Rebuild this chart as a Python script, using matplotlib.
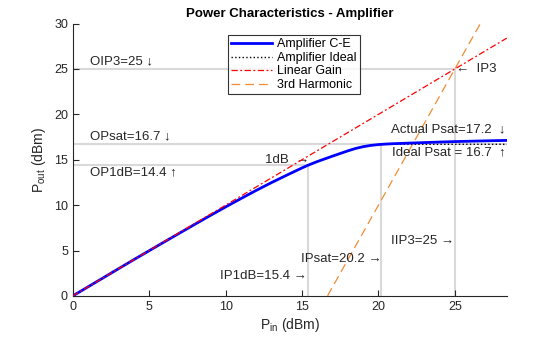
import matplotlib.pyplot as plt

plt.rcParams['font.family'] = ['Liberation Sans', 'DejaVu Sans']
plt.rcParams['mathtext.fontset'] = 'custom'
plt.rcParams['mathtext.rm'] = 'Liberation Sans'

# measured compression curve (dBm)
pin = [0, 1, 2, 3, 4, 5, 6, 7, 8, 9, 10, 11, 12, 13, 14, 15, 15.4, 16, 17, 18,
       18.5, 19, 19.5, 20, 20.5, 21, 22, 23, 24, 25, 26, 27, 28.4]
pout = [0, 1.0, 2.0, 3.0, 4.0, 4.98, 5.96, 6.93, 7.9, 8.86, 9.8, 10.72, 11.62,
        12.48, 13.3, 14.1, 14.4, 14.8, 15.4, 15.98, 16.24, 16.44, 16.58, 16.67,
        16.73, 16.77, 16.83, 16.89, 16.95, 17.0, 17.04, 17.08, 17.13]

ip1db, op1db = 15.4, 14.4
ipsat, opsat = 20.2, 16.7
iip3, oip3 = 25, 25
xmax = 28.4

# ideal amplifier: same curve, hard-limited at the saturation level
ideal_pout = [min(p, opsat) for p in pout]

lin_pin = [0, 28.4]
lin_pout = [0, 28.4]
harm_pin = [16.67, 28.4]
harm_pout = [0, 35.2]

txt = '#262626'
grid = '#d9d9d9'

fig = plt.figure(figsize=(5.6, 3.37), dpi=100)
ax = fig.add_axes([0.130, 0.122, 0.775, 0.808])

# marker lines for the key points
ax.plot([0, iip3], [oip3, oip3], color=grid, lw=1.5, zorder=1)
ax.plot([0, xmax], [opsat, opsat], color=grid, lw=1.5, zorder=1)
ax.plot([0, ip1db], [op1db, op1db], color=grid, lw=1.5, zorder=1)
ax.plot([ip1db, ip1db], [0, op1db], color=grid, lw=1.5, zorder=1)
ax.plot([ipsat, ipsat], [0, opsat], color=grid, lw=1.5, zorder=1)
ax.plot([iip3, iip3], [0, oip3], color=grid, lw=1.5, zorder=1)

ax.plot(pin, pout, color='#0000ff', lw=2, label='Amplifier C-E', zorder=4)
ax.plot(pin, ideal_pout, color='black', ls=':', lw=1, label='Amplifier Ideal', zorder=3)
ax.plot(lin_pin, lin_pout, color='#ff0000', ls=(0, (5, 2, 1.5, 2)), lw=0.9,
        label='Linear Gain', zorder=5)
ax.plot(harm_pin, harm_pout, color='#f08c32', ls=(0, (7, 4)), lw=0.9,
        label='3rd Harmonic', zorder=3)

fs = 9.5
ax.text(1.1, 25.8, 'OIP3=25 \u2193', fontsize=fs, color=txt, va='center')
ax.text(1.1, 17.6, 'OPsat=16.7 \u2193', fontsize=fs, color=txt, va='center')
ax.text(1.1, 13.6, 'OP1dB=14.4 \u2191', fontsize=fs, color=txt, va='center')
ax.text(15.45, 15.0, '1dB  \u2192', fontsize=fs, color=txt, va='center', ha='right')
ax.text(15.3, 2.2, 'IP1dB=15.4 \u2192', fontsize=fs, color=txt, va='center', ha='right')
ax.text(20.2, 4.1, 'IPsat=20.2 \u2192', fontsize=fs, color=txt, va='center', ha='right')
ax.text(24.95, 6.05, 'IIP3=25 \u2192', fontsize=fs, color=txt, va='center', ha='right')
ax.text(25.1, 25.0, '\u2190  IP3', fontsize=fs, color=txt, va='center', ha='left')
ax.text(28.3, 18.3, 'Actual Psat=17.2  \u2193', fontsize=fs, color=txt, va='center', ha='right')
ax.text(28.3, 15.8, 'Ideal Psat = 16.7  \u2191', fontsize=fs, color=txt, va='center', ha='right')

ax.set_xlim(0, xmax)
ax.set_ylim(0, 30)
ax.set_xticks([0, 5, 10, 15, 20, 25])
ax.set_yticks([0, 5, 10, 15, 20, 25, 30])
ax.tick_params(direction='in', length=4, labelsize=9, colors=txt)
for s in ['top', 'right']:
    ax.spines[s].set_visible(False)
for s in ['left', 'bottom']:
    ax.spines[s].set_color(txt)
    ax.spines[s].set_linewidth(0.8)

ax.set_xlabel('P$_{\\mathregular{in}}$ (dBm)', fontsize=10, color=txt, labelpad=2)
ax.set_ylabel('P$_{\\mathregular{out}}$ (dBm)', fontsize=10, color=txt, labelpad=4)
ax.set_title('Power Characteristics - Amplifier', fontsize=9.5, fontweight='bold',
             color='black', pad=5)

leg = ax.legend(loc='upper left', bbox_to_anchor=(0.357, 0.957), fontsize=9,
                frameon=True, fancybox=False, borderpad=0.25, labelspacing=0.12,
                handlelength=3.3, handletextpad=0.4, borderaxespad=0)
leg.get_frame().set_edgecolor('black')
leg.get_frame().set_linewidth(0.8)

fig.savefig('out.png', dpi=100)
